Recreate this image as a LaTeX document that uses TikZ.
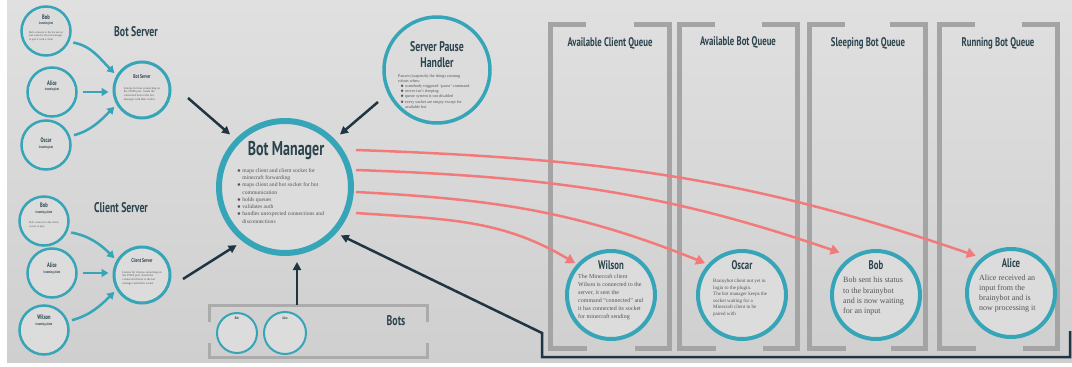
\documentclass[tikz,border=0pt]{standalone}
\usepackage{fontspec}
\setmainfont{Liberation Serif}
\newfontfamily\tf[FakeStretch=0.7]{PT Sans}
\usetikzlibrary{arrows.meta}
\definecolor{cteal}{HTML}{35A5B7}
\definecolor{cdark}{HTML}{1F3541}
\definecolor{cred}{HTML}{F27A7A}
\definecolor{cframe}{HTML}{A4A4A4}
\definecolor{cframeb}{HTML}{ABABAB}
\definecolor{ctitle}{HTML}{2B434D}
\definecolor{ctext}{HTML}{555555}
\definecolor{cbgtop}{HTML}{E0E0E0}
\definecolor{cbgbot}{HTML}{CFCFCF}
\definecolor{cfill}{HTML}{DCDCDC}
\tikzset{
  circbase/.style={circle, draw=cteal, fill=cfill, inner sep=0pt},
  smallc/.style={circbase, line width=2.5pt, minimum size=49pt},
  srvc/.style={circbase, line width=3pt, minimum size=56pt},
  qc/.style={circbase, line width=4pt, minimum size=88pt},
  tinyc/.style={circbase, line width=2pt, minimum size=40pt},
  ttl/.style={text=ctitle, inner sep=0pt},
  subttl/.style={text=ctitle, inner sep=0pt, font={\tf\bfseries\fontsize{3.6}{4}\selectfont}},
  smallttl/.style={text=ctitle, inner sep=0pt, font={\tf\bfseries\fontsize{6.5}{7}\selectfont}},
  body/.style={text=ctext, inner sep=0pt, align=left},
  tarr/.style={draw=cteal, line width=2.5pt, -{Triangle[length=7pt,width=8pt]}},
  darr/.style={draw=cdark, line width=2.5pt, -{Triangle[length=8pt,width=8pt]}},
  rarr/.style={draw=cred, line width=2.5pt, -{Triangle[length=9pt,width=10pt]}},
  qframe/.style={draw=cframe, line width=5pt},
  bframe/.style={draw=cframeb, line width=3pt}
}
\begin{document}
\begin{tikzpicture}[x=1pt,y=1pt]
\useasboundingbox (0,0) rectangle (1072,-367);
\fill[white] (0,0) rectangle (1072,-367);
\shade[top color=cbgtop, bottom color=cbgbot] (7,0) rectangle (1072,-362);

% queue columns
\foreach \a/\b in {550.5/669.5, 679.5/797.5, 809.5/925.5, 939.5/1057.5}{
  \draw[qframe] (\a+35,-24.5) -- (\a,-24.5) -- (\a,-348) -- (\a+36,-348);
  \draw[qframe] (\b-36,-24.5) -- (\b,-24.5) -- (\b,-348) -- (\b-35,-348);
}
\node[ttl, font={\tf\bfseries\fontsize{12.5}{15}\selectfont}] (q1) at (610,-43) {Available Client Queue};
\node[ttl, font={\tf\bfseries\fontsize{12.5}{15}\selectfont}] (q2) at (738,-42) {Available Bot Queue};
\node[ttl, font={\tf\bfseries\fontsize{12.5}{15}\selectfont}] (q3) at (868,-43) {Sleeping Bot Queue};
\node[ttl, font={\tf\bfseries\fontsize{12.5}{15}\selectfont}] (q4) at (998,-43) {Running Bot Queue};

% bots box
\draw[bframe] (209,-322) -- (209,-305) -- (427,-305) -- (427,-322);
\draw[bframe] (209,-343) -- (209,-357) -- (427,-357) -- (427,-343);
\node[ttl, font={\tf\bfseries\fontsize{14}{17}\selectfont}] (botslbl) at (396,-321) {Bots};
\node[tinyc] (tbob) at (237,-333) {};
\node[subttl] (tbobt) at (237,-318) {Bob};
\node[tinyc, minimum size=42pt] (talice) at (285,-333) {};
\node[subttl] (talicet) at (285,-318) {Alice};
\coordinate (botstop) at (297,-305);

% bot server group
\node[ttl, font={\tf\bfseries\fontsize{14}{17}\selectfont}] (bstitle) at (136,-32) {Bot Server};
\node[smallc] (bbob) at (46,-31) {};
\node[smallttl] (bbobt) at (46,-17) {Bob};
\node[subttl] (bbobs) at (46,-24) {Incoming bot};
\node[body, font={\fontsize{2.8}{3.4}\selectfont}] (bbobb) at (46,-36) {Bob connects to the bot server\\and waits for the bot manager\\to pair it with a client};
\node[smallc] (balice) at (52,-92) {};
\node[smallttl] (balicet) at (52,-83) {Alice};
\node[subttl] (balices) at (52,-90) {Incoming bot};
\node[smallc] (boscar) at (46,-145) {};
\node[smallttl] (boscart) at (46,-140) {Oscar};
\node[subttl] (boscars) at (46,-148) {Incoming bot};
\node[srvc] (bs) at (142,-90) {};
\node[subttl, font={\tf\bfseries\fontsize{5.5}{6}\selectfont}] (bst) at (142,-77) {Bot Server};
\node[body, font={\fontsize{3}{3.8}\selectfont}] (bsb) at (142,-94) {Listens for bots connecting on\\the 25566 port. Sends the\\connected bots to the bot\\manager with their socket};

% client server group
\node[ttl, font={\tf\bfseries\fontsize{14}{17}\selectfont}] (cstitle) at (121,-208) {Client Server};
\node[smallc] (cbob) at (44,-221) {};
\node[smallttl] (cbobt) at (44,-205) {Bob};
\node[subttl] (cbobs) at (44,-213) {Incoming client};
\node[body, font={\fontsize{2.8}{3.4}\selectfont}] (cbobb) at (44,-225) {Bob connects to the client\\server to play};
\node[smallc] (calice) at (52,-273) {};
\node[smallttl] (calicet) at (52,-265) {Alice};
\node[subttl] (calices) at (52,-273) {Incoming client};
\node[smallc] (cwilson) at (44,-330) {};
\node[smallttl] (cwilsont) at (44,-317) {Wilson};
\node[subttl] (cwilsons) at (44,-325) {Incoming client};
\node[srvc] (cs) at (142,-275) {};
\node[subttl, font={\tf\bfseries\fontsize{5.5}{6}\selectfont}] (cst) at (142,-261) {Client Server};
\node[body, font={\fontsize{3}{3.8}\selectfont}] (csb) at (142,-278) {Listens for clients connecting on\\the 25565 port. Sends the\\connected clients to the bot\\manager with their socket};

% teal arrows
\draw[tarr, shorten <=4pt, shorten >=3pt] (bbob.-25) to[out=-10, in=135] (bs.150);
\draw[tarr, shorten <=5pt, shorten >=4pt] (balice.east) -- (balice.east -| bs.west);
\draw[tarr, shorten <=4pt, shorten >=3pt] (boscar.20) to[out=15, in=-135] (bs.-150);
\draw[tarr, shorten <=4pt, shorten >=3pt] (cbob.-25) to[out=-10, in=135] (cs.150);
\draw[tarr, shorten <=5pt, shorten >=4pt] (calice.east) -- (calice.east -| cs.west);
\draw[tarr, shorten <=4pt, shorten >=3pt] (cwilson.20) to[out=15, in=-135] (cs.-150);

% bot manager
\node[circbase, line width=6pt, minimum size=132pt] (bm) at (285,-187) {};
\node[ttl, font={\tf\bfseries\fontsize{20}{23}\selectfont}] (bmt) at (286,-151) {Bot Manager};
\node[body, anchor=north west, font={\fontsize{5.6}{7.3}\selectfont}] (bmb) at (237,-168) {%
$\bullet$ maps client and client socket for\\
\phantom{$\bullet$ }minecraft forwarding\\
$\bullet$ maps client and bot socket for bot\\
\phantom{$\bullet$ }communication\\
$\bullet$ holds queues\\
$\bullet$ validates auth\\
$\bullet$ handles unexpected connections and\\
\phantom{$\bullet$ }disconnections};

% server pause handler
\node[circbase, line width=3.5pt, minimum size=106pt] (sph) at (437,-70) {};
\node[ttl, align=center, font={\tf\bfseries\fontsize{14}{16}\selectfont}] (spht) at (437,-55) {Server Pause\\Handler};
\node[body, anchor=north west, font={\fontsize{4.2}{5.2}\selectfont}] (sphb) at (398,-74) {%
Pauses (suspends) the things running\\
robots when:\\
\ \ $\bullet$ somebody triggered `pause' command\\
\ \ $\bullet$ server isn't sleeping\\
\ \ $\bullet$ queue system is not disabled\\
\ \ $\bullet$ every socket are empty except for\\
\ \ \phantom{$\bullet$ }available bot};

% dark arrows into bot manager
\coordinate (bsout) at (188,-98);
\coordinate (csout) at (183,-279);
\coordinate (sphout) at (378,-102);
\draw[darr, shorten >=7pt] (bsout) -- (bm.136);
\draw[darr, shorten >=7pt] (sphout) -- (bm.44);
\draw[darr, shorten >=7pt] (csout) -- (bm.232);
\draw[darr, shorten >=6pt] (botstop) -- (botstop |- bm.south);
\coordinate (p0) at (1070,-331);
\coordinate (p1) at (1070,-357);
\coordinate (p2) at (542,-357);
\coordinate (p3) at (542,-333);
\draw[darr, shorten >=5pt] (p0) -- (p1) -- (p2) -- (p3) -- (bm.-42);

% queue circles
\node[qc] (wilson) at (611,-295) {};
\node[ttl, font={\tf\bfseries\fontsize{12.5}{15}\selectfont}] (wilsont) at (611,-265) {Wilson};
\node[body, anchor=north west, font={\fontsize{6}{8}\selectfont}] (wilsonb) at (578,-274) {%
The Minecraft client\\Wilson is connected to the\\server, it sent the\\command ``connected'' and\\it has connected its socket\\for minecraft sending};
\node[qc] (oscar) at (742,-295) {};
\node[ttl, font={\tf\bfseries\fontsize{12.5}{15}\selectfont}] (oscart) at (742,-265) {Oscar};
\node[body, anchor=north west, font={\fontsize{5}{6.5}\selectfont}] (oscarb) at (713,-279) {%
Brainybot client not yet in\\login to the plugin.\\The bot manager keeps the\\socket waiting for a\\Minecraft client to be\\paired with};
\node[qc] (bob) at (876,-295) {};
\node[ttl, font={\tf\bfseries\fontsize{12.5}{15}\selectfont}] (bobt) at (876,-265) {Bob};
\node[body, anchor=north west, font={\fontsize{8}{10.3}\selectfont}] (bobb) at (843,-277) {%
Bob sent his status\\to the brainybot\\and is now waiting\\for an input};
\node[qc] (alice) at (1011,-293) {};
\node[ttl, font={\tf\bfseries\fontsize{12.5}{15}\selectfont}] (alicet) at (1011,-263) {Alice};
\node[body, anchor=north west, font={\fontsize{8}{10}\selectfont}] (aliceb) at (979,-275) {%
Alice received an\\input from the\\brainybot and is\\now processing it};

% red arrows
\coordinate (r1) at (356,-150);
\coordinate (r2) at (356,-170);
\coordinate (r3) at (356,-192);
\coordinate (r4) at (356,-213);
\draw[rarr, shorten >=6pt] (r1) to[out=-2, in=161] (alice.130);
\draw[rarr, shorten >=12pt] (r2) to[out=-2, in=161] (bob.123);
\draw[rarr, shorten >=3pt] (r3) to[out=-3, in=158] (oscar.138);
\draw[rarr, shorten >=2pt] (r4) to[out=-4, in=149] (wilson.138);
\end{tikzpicture}
\end{document}
